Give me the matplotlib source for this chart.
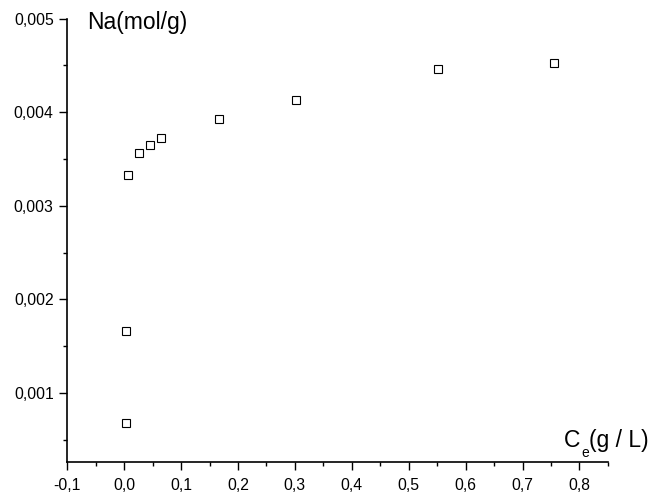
import matplotlib
matplotlib.use("Agg")
import matplotlib.pyplot as plt
from matplotlib.ticker import MultipleLocator, FuncFormatter
from matplotlib.transforms import offset_copy

plt.rcParams['font.family'] = ['Liberation Sans', 'DejaVu Sans']

ce = [0.003, 0.003, 0.006, 0.026, 0.045, 0.065, 0.166, 0.302, 0.552, 0.756]
na = [0.000673, 0.001657, 0.003325, 0.003560, 0.003646, 0.003724, 0.003924, 0.004130, 0.004459, 0.004529]

fig = plt.figure(figsize=(6.53, 5.0), dpi=100)
ax = fig.add_axes([0.103, 0.076, 0.828, 0.8866])

ax.plot(ce, na, linestyle='none', marker='s', markersize=5.4,
        markerfacecolor='white', markeredgecolor='black', markeredgewidth=0.8)

ax.set_xlim(-0.1, 0.85)
ax.set_ylim(0.00026, 0.005)

for s in ['top', 'right']:
    ax.spines[s].set_visible(False)
for s in ['left', 'bottom']:
    ax.spines[s].set_linewidth(1.2)

ax.xaxis.set_major_locator(MultipleLocator(0.1))
ax.xaxis.set_minor_locator(MultipleLocator(0.05))
ax.yaxis.set_major_locator(MultipleLocator(0.001))
ax.yaxis.set_minor_locator(MultipleLocator(0.0005))

ax.xaxis.set_major_formatter(FuncFormatter(lambda v, p: f"{v:.1f}".replace('.', ',').replace('-0,0', '0,0')))
ax.yaxis.set_major_formatter(FuncFormatter(lambda v, p: f"{v:.3f}".replace('.', ',')))

ax.tick_params(which='major', direction='out', length=5.8, width=1.0, labelsize=11.3, pad=4)
ax.tick_params(axis='x', which='major', pad=6)
ax.tick_params(which='minor', direction='out', length=3.2, width=1.0)

fig.text(0.133, 0.943, 'Na(mol/g)', fontsize=16.5, ha='left', va='baseline')

# C_e(g / L) built from pieces so the subscript sits low like in the reference
renderer = fig.canvas.get_renderer()
x0 = 564 / 653.0
yb = 0.106
t1 = fig.text(x0, yb, 'C', fontsize=16.5, ha='left', va='baseline')
w1 = t1.get_window_extent(renderer).width
t2 = fig.text(x0, yb, 'e', fontsize=10, ha='left', va='baseline',
              transform=offset_copy(fig.transFigure, fig=fig, x=w1 + 1, y=-10, units='dots'))
w2 = t2.get_window_extent(renderer).width
fig.text(x0, yb, '(g / L)', fontsize=16.5, ha='left', va='baseline',
         transform=offset_copy(fig.transFigure, fig=fig, x=w1 + w2 + 1, y=0, units='dots'))

fig.savefig('out.png', dpi=100)
